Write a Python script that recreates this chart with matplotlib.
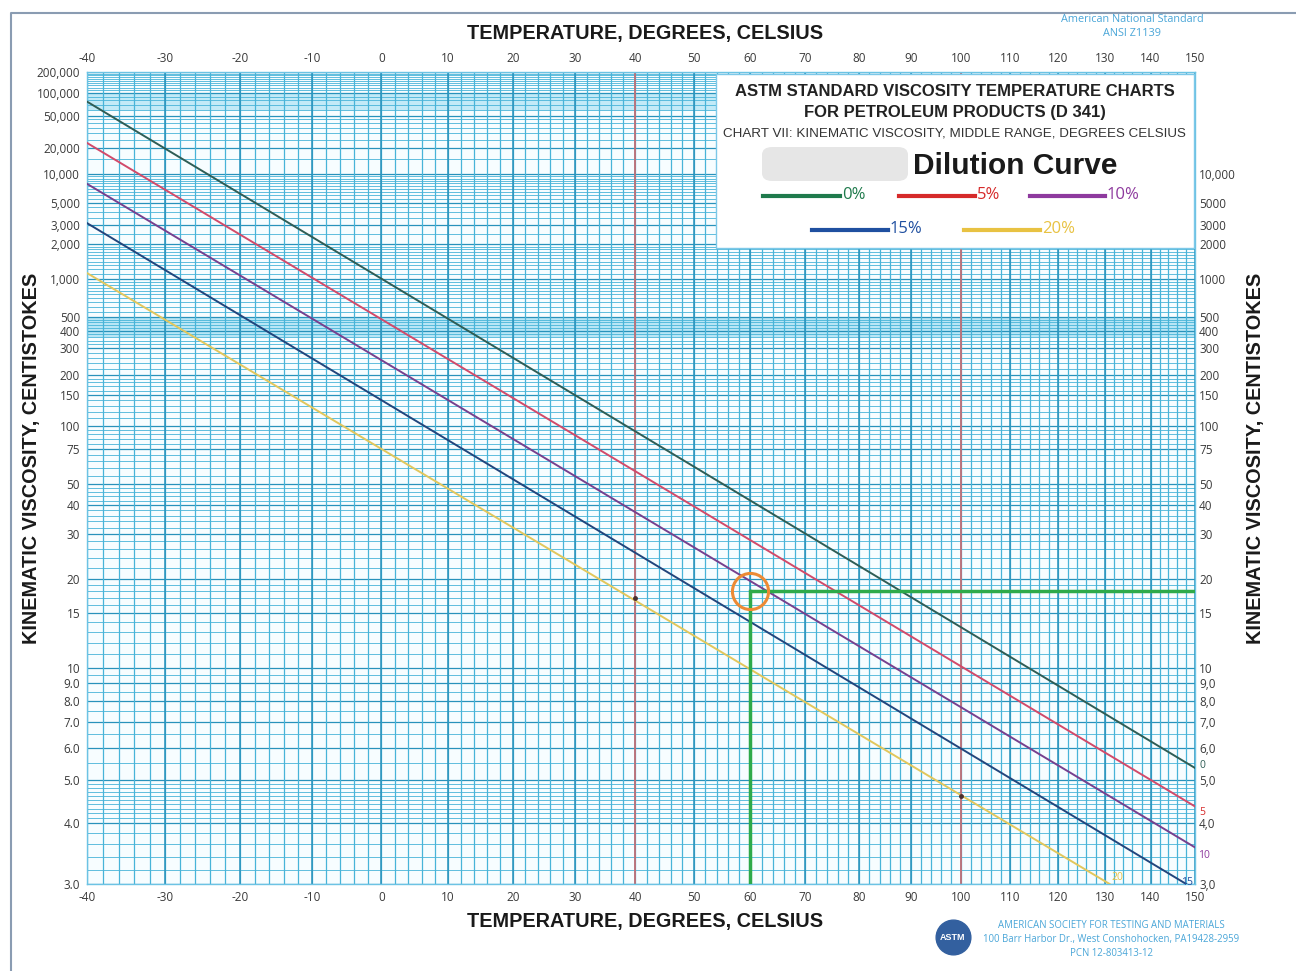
import numpy as np
import matplotlib
matplotlib.use("Agg")
import matplotlib.pyplot as plt
from matplotlib.lines import Line2D
from matplotlib.patches import Rectangle, FancyBboxPatch


FIG_W = 1296
FIG_H = 971
DPI = 100

# axes frame in pixels (left, top, right, bottom)
AX_L, AX_T, AX_R, AX_B = 87, 72, 1195, 884

TEMP_MIN, TEMP_MAX = -40, 150
VISC_MIN, VISC_MAX = 3.0, 200000

TEMP_TICKS = list(range(-40, 151, 10))
TEMP_LABELS = [str(t) for t in TEMP_TICKS]

VISC_TICKS_LEFT = [200000, 100000, 50000, 20000, 10000, 5000, 3000, 2000, 1000,
                   500, 400, 300, 200, 150, 100, 75, 50, 40, 30, 20, 15, 10,
                   9, 8, 7, 6, 5, 4, 3]
VISC_LABELS_LEFT = ["200,000", "100,000", "50,000", "20,000", "10,000", "5,000",
                    "3,000", "2,000", "1,000", "500", "400", "300", "200", "150",
                    "100", "75", "50", "40", "30", "20", "15", "10",
                    "9.0", "8.0", "7.0", "6.0", "5.0", "4.0", "3.0"]

VISC_TICKS_RIGHT = [10000, 5000, 3000, 2000, 1000, 500, 400, 300, 200, 150, 100,
                    75, 50, 40, 30, 20, 15, 10, 9, 8, 7, 6, 5, 4, 3]
VISC_LABELS_RIGHT = ["10,000", "5000", "3000", "2000", "1000", "500", "400", "300",
                     "200", "150", "100", "75", "50", "40", "30", "20", "15", "10",
                     "9,0", "8,0", "7,0", "6,0", "5,0", "4,0", "3,0"]

# dilution curves: straight lines on the ASTM chart, start and end
CURVE_NAMES = ["0%", "5%", "10%", "15%", "20%"]
CURVE_TAGS = ["0", "5", "10", "15", "20"]
CURVE_T_START = [-40, -40, -40, -40, -40]
CURVE_V_START = [77000, 23000, 7900, 3150, 1120]
CURVE_T_END = [150, 150, 150, 148, 131]
CURVE_V_END = [5.35, 4.35, 3.55, 3.0, 3.0]
CURVE_COLORS = ["#2f5d55", "#d24a6a", "#77408e", "#22457c", "#e2c75c"]
LEGEND_COLORS = ["#1f7a4c", "#d62a2a", "#8e3a9e", "#1f4fa0", "#e8c242"]

REF_TEMPS = [40, 100]

# 20% curve crossing the reference temperatures
CROSS_TEMPS = [40, 100]
CROSS_VISC = [17, 4.6]

# operating point
OP_TEMP = 60
OP_VISC = 18

GRID_COLOR = "#48b4d8"
GRID_MAJOR = "#2892bb"
TICK_COLOR = "#3a3a3a"
TICK_FONT = "Open Sans"
TITLE_FONT = "Liberation Sans"


def temp_fwd(t):
    t = np.asarray(t, dtype=float)
    return np.log10(np.maximum(t + 273.15, 1.0))


def temp_inv(u):
    u = np.asarray(u, dtype=float)
    return 10.0 ** u - 273.15


def visc_fwd(v):
    v = np.maximum(np.asarray(v, dtype=float), 0.31)
    return np.log10(np.log10(v + 0.7))


def visc_inv(w):
    w = np.clip(np.asarray(w, dtype=float), -3.0, 1.0)
    return 10.0 ** (10.0 ** w) - 0.7


def fx(px):
    return px / FIG_W


def fy(py):
    return 1.0 - py / FIG_H


def grid_values():
    segments = [(3.0, 4.0, 0.2), (4.0, 5.0, 0.1), (5.0, 10.0, 0.5), (10, 20, 1),
                (20, 50, 2), (50, 100, 5), (100, 200, 10), (200, 500, 20),
                (500, 1000, 50), (1000, 2000, 100),
                (2000, 10000, 500), (10000, 50000, 5000), (50000, 200000, 10000)]
    vals = []
    for lo, hi, step in segments:
        vals.extend(np.arange(lo, hi, step).tolist())
    vals.append(VISC_MAX)
    return vals


def main():
    fig = plt.figure(figsize=(FIG_W / DPI, FIG_H / DPI), dpi=DPI)
    fig.patch.set_facecolor("white")

    ax = fig.add_axes([fx(AX_L), fy(AX_B), fx(AX_R - AX_L), (AX_B - AX_T) / FIG_H])
    ax.set_facecolor("#f7fdff")
    ax.set_xscale("function", functions=(temp_fwd, temp_inv))
    ax.set_yscale("function", functions=(visc_fwd, visc_inv))
    ax.set_xlim(TEMP_MIN, TEMP_MAX)
    ax.set_ylim(VISC_MIN, VISC_MAX)

    # light bands of very dense rulings
    ax.axhspan(60000, 100000, color="#8fd8f0", alpha=0.5, lw=0, zorder=0.5)
    ax.axhspan(360, 500, color="#8fd8f0", alpha=0.6, lw=0, zorder=0.5)

    # ruling
    ax.hlines(grid_values(), TEMP_MIN, TEMP_MAX, colors=GRID_COLOR, lw=0.6, zorder=1)
    ax.hlines(VISC_TICKS_LEFT, TEMP_MIN, TEMP_MAX, colors=GRID_MAJOR, lw=0.9, zorder=1)
    ax.vlines(np.arange(TEMP_MIN, TEMP_MAX + 1, 2), VISC_MIN, VISC_MAX,
              colors=GRID_COLOR, lw=0.9, zorder=1)
    ax.vlines(TEMP_TICKS, VISC_MIN, VISC_MAX, colors=GRID_MAJOR, lw=1.1, zorder=1)

    for t in REF_TEMPS:
        ax.axvline(t, color="#de6a6a", lw=1.1, zorder=2)

    for i in range(len(CURVE_NAMES)):
        ax.plot([CURVE_T_START[i], CURVE_T_END[i]], [CURVE_V_START[i], CURVE_V_END[i]],
                color=CURVE_COLORS[i], lw=1.4, zorder=3)

    ax.plot(CROSS_TEMPS, CROSS_VISC, "o", ms=2.5, color="#4a3030", zorder=4)

    # end tags of the curves
    tag_offsets = [(3, 2), (3, -4), (2, -6), (-4, 1), (1, 5)]
    for i in range(len(CURVE_NAMES)):
        ax.annotate(CURVE_TAGS[i], (CURVE_T_END[i], CURVE_V_END[i]),
                    xytext=tag_offsets[i], textcoords="offset points",
                    fontsize=7.5, color=LEGEND_COLORS[i] if i != 0 else "#2f5d55",
                    family=TICK_FONT, ha="left", va="center",
                    annotation_clip=False, zorder=6)

    # operating point
    ax.plot([OP_TEMP, OP_TEMP], [VISC_MIN, OP_VISC], color="#2eaa4a", lw=2.5, zorder=5)
    ax.plot([OP_TEMP, TEMP_MAX], [OP_VISC, OP_VISC], color="#2eaa4a", lw=2.5,
            zorder=5, solid_capstyle="butt")
    ax.plot([OP_TEMP], [OP_VISC], "o", ms=26, mfc="none", mec="#ec8a34", mew=2.2, zorder=6)

    for sp in ax.spines.values():
        sp.set_color("#6cc3e4")
        sp.set_linewidth(1.0)

    ax.set_xticks(TEMP_TICKS)
    ax.set_xticklabels(TEMP_LABELS, family=TICK_FONT)
    ax.set_yticks(VISC_TICKS_LEFT)
    ax.set_yticklabels(VISC_LABELS_LEFT, family=TICK_FONT)
    ax.tick_params(axis="x", which="both", length=0, labelsize=8.5, pad=5,
                   labeltop=True, colors=TICK_COLOR)
    ax.tick_params(axis="y", which="both", length=0, labelsize=8.5, pad=5,
                   colors=TICK_COLOR)
    ax.minorticks_off()

    axr = ax.twinx()
    axr.set_yscale("function", functions=(visc_fwd, visc_inv))
    axr.set_ylim(VISC_MIN, VISC_MAX)
    axr.set_yticks(VISC_TICKS_RIGHT)
    axr.set_yticklabels(VISC_LABELS_RIGHT, family=TICK_FONT)
    axr.tick_params(axis="y", which="both", length=0, labelsize=8.5, pad=3,
                    colors=TICK_COLOR)
    axr.minorticks_off()
    for sp in axr.spines.values():
        sp.set_visible(False)

    # axis titles
    title_kw = dict(family=TITLE_FONT, fontweight="bold", fontsize=14.3, color="#1a1a1a")
    fig.text(fx(645), fy(34), "TEMPERATURE, DEGREES, CELSIUS", ha="center", va="center", **title_kw)
    fig.text(fx(645), fy(921), "TEMPERATURE, DEGREES, CELSIUS", ha="center", va="center", **title_kw)
    fig.text(fx(32), fy(458), "KINEMATIC VISCOSITY, CENTISTOKES", ha="center", va="center",
             rotation=90, **title_kw)
    fig.text(fx(1255), fy(458), "KINEMATIC VISCOSITY, CENTISTOKES", ha="center", va="center",
             rotation=90, **title_kw)

    fig.text(fx(1132), fy(19), "American National Standard", ha="center", va="center",
             fontsize=7.8, color="#4aa6d8", family=TICK_FONT)
    fig.text(fx(1132), fy(33), "ANSI Z1139", ha="center", va="center",
             fontsize=7.8, color="#4aa6d8", family=TICK_FONT)

    # title / legend box
    box = Rectangle((fx(716), fy(248)), fx(1194 - 716), (248 - 74) / FIG_H,
                    transform=fig.transFigure, facecolor="white", edgecolor="#7cc8e8",
                    lw=1.0, zorder=5)
    fig.add_artist(box)
    fig.text(fx(955), fy(92), "ASTM STANDARD VISCOSITY TEMPERATURE CHARTS", ha="center",
             va="center", family=TITLE_FONT, fontweight="bold", fontsize=12,
             color="#222222", zorder=6)
    fig.text(fx(955), fy(113), "FOR PETROLEUM PRODUCTS (D 341)", ha="center",
             va="center", family=TITLE_FONT, fontweight="bold", fontsize=12,
             color="#222222", zorder=6)
    fig.text(fx(954), fy(133), "CHART VII: KINEMATIC VISCOSITY, MIDDLE RANGE, DEGREES CELSIUS",
             ha="center", va="center", family=TITLE_FONT, fontsize=9.6,
             color="#333333", zorder=6)
    blur = FancyBboxPatch((fx(762), fy(181)), fx(146), 34 / FIG_H,
                          boxstyle="round,pad=0,rounding_size=0.008",
                          transform=fig.transFigure, facecolor="#e6e6e6",
                          edgecolor="none", zorder=6)
    fig.add_artist(blur)
    fig.text(fx(913), fy(166), "Dilution Curve", ha="left", va="center",
             family=TITLE_FONT, fontweight="bold", fontsize=21.5, color="#1a1a1a", zorder=6)

    legend_pos = [(763, 840, 196), (899, 975, 196), (1030, 1105, 196),
                  (812, 888, 230), (964, 1040, 230)]
    for i, (x0, x1, yy) in enumerate(legend_pos):
        fig.add_artist(Line2D([fx(x0), fx(x1)], [fy(yy), fy(yy)], transform=fig.transFigure,
                              color=LEGEND_COLORS[i], lw=3, zorder=6))
        fig.text(fx(x1 + 2), fy(yy - 1), CURVE_NAMES[i], ha="left", va="center",
                 family=TICK_FONT, fontsize=12, color=LEGEND_COLORS[i], zorder=6)

    # ASTM footer
    fig.add_artist(Line2D([fx(953)], [fy(937)], transform=fig.transFigure, marker="o",
                          ms=25, color="#33609f", zorder=6))
    fig.text(fx(953), fy(937), "ASTM", ha="center", va="center", family=TITLE_FONT,
             fontweight="bold", fontsize=6.5, color="white", zorder=7)
    footer_kw = dict(ha="center", va="center", fontsize=6.9, color="#4aa6d8", family=TICK_FONT)
    fig.text(fx(1111), fy(925), "AMERICAN SOCIETY FOR TESTING AND MATERIALS", **footer_kw)
    fig.text(fx(1111), fy(939), "100 Barr Harbor Dr., West Conshohocken, PA19428-2959", **footer_kw)
    fig.text(fx(1111), fy(953), "PCN 12-803413-12", **footer_kw)

    # page frame
    fig.add_artist(Line2D([fx(11), fx(11), fx(FIG_W)], [fy(FIG_H), fy(13), fy(13)],
                          transform=fig.transFigure, color="#8a9cb2", lw=1.5))

    fig.savefig("out.png", dpi=DPI)


if __name__ == "__main__":
    main()
